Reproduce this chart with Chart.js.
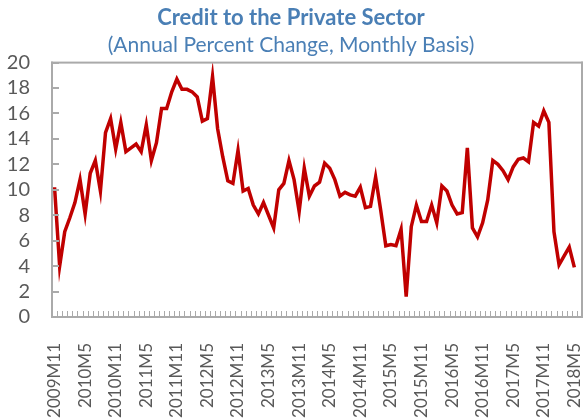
<!DOCTYPE html>
<html><head><meta charset="utf-8">
<script src="https://cdn.jsdelivr.net/npm/chart.js@4.4.0/dist/chart.umd.min.js"></script>
<style>html,body{margin:0;padding:0;background:#fff}#wrap{width:586px;height:419px}</style>
</head><body><div id="wrap"><canvas id="c" width="586" height="419"></canvas></div>
<script>
// Category range: 2009M11 .. 2018M5 (plus one empty trailing month on the axis)
const startYear = 2009, startMonth = 11, monthCount = 104;
const categories = [];
for (let i = 0; i < monthCount; i++) {
  const m = startMonth - 1 + i;
  categories.push((startYear + Math.floor(m / 12)) + 'M' + (m % 12 + 1));
}
// Annual percent change, monthly
const creditGrowth = [
  10.2, 4.0, 6.7, 7.8, 9.0, 10.8, 8.1, 11.3, 12.3, 9.9,
  14.5, 15.6, 13.2, 15.3, 13.0, 13.3, 13.6, 13.0, 15.1, 12.3,
  13.7, 16.4, 16.4, 17.7, 18.7, 17.9, 17.9, 17.7, 17.3, 15.4,
  15.6, 18.9, 14.8, 12.6, 10.7, 10.5, 13.1, 9.9, 10.1, 8.8,
  8.1, 9.0, 8.0, 7.0, 10.0, 10.5, 12.3, 10.8, 8.3, 11.7,
  9.5, 10.3, 10.6, 12.1, 11.7, 10.8, 9.5, 9.8, 9.6, 9.5,
  10.2, 8.6, 8.7, 11.0, 8.4, 5.6, 5.7, 5.6, 6.9, 1.6,
  7.1, 8.8, 7.5, 7.5, 8.8, 7.4, 10.3, 9.9, 8.8, 8.1,
  8.2, 13.3, 7.0, 6.3, 7.4, 9.2, 12.3, 12.0, 11.5, 10.8,
  11.8, 12.4, 12.5, 12.2, 15.3, 15.0, 16.2, 15.3, 6.7, 4.1,
  4.8, 5.5, 3.9
];
const yTicks = [0, 2, 4, 6, 8, 10, 12, 14, 16, 18, 20];
const labelEvery = 6;

// Plot frame and inward tick marks, positioned from the chart's own scales
const framePlugin = {
  id: 'plotFrameTicks',
  afterDraw(chart) {
    const c = chart.ctx;
    const ca = chart.chartArea;
    const xs = chart.scales.x, ys = chart.scales.y;
    c.save();
    c.fillStyle = 'rgb(170,170,170)';
    const w = ca.right - ca.left, h = ca.bottom - ca.top;
    c.fillRect(ca.left - 1, ca.top - 1, w + 2, 2);
    c.fillRect(ca.left - 1, ca.bottom - 1, w + 2, 2);
    c.fillRect(ca.left - 1, ca.top - 1, 2, h + 2);
    c.fillRect(ca.right - 1, ca.top - 1, 2, h + 2);
    for (let k = 0; k < yTicks.length; k++) {
      const py = Math.round(ys.getPixelForValue(yTicks[k]));
      c.fillRect(ca.left, py - 1, 7, 2);
    }
    const step = xs.getPixelForValue(1) - xs.getPixelForValue(0);
    for (let i = 0; i <= categories.length; i++) {
      const px = Math.round(xs.getPixelForValue(i) - step / 2);
      c.fillRect(px, ca.bottom - 6, 1, 6);
    }
    c.restore();
  }
};

new Chart(document.getElementById('c'), {
  type: 'line',
  data: {
    labels: categories,
    datasets: [{
      data: creditGrowth,
      borderColor: '#c00000',
      borderWidth: 3.5,
      pointRadius: 0,
      tension: 0,
      fill: false
    }]
  },
  options: {
    responsive: false,
    animation: false,
    devicePixelRatio: 1,
    layout: {padding: {left: 0, right: 4, top: 0, bottom: 0}},
    plugins: {
      legend: {display: false},
      tooltip: {enabled: false},
      title: {
        display: true,
        text: 'Credit to the Private Sector',
        color: '#4a7fb5',
        font: {family: 'Lato, "Open Sans", sans-serif', size: 22, weight: 'bold'},
        padding: {top: 5, bottom: 0}
      },
      subtitle: {
        display: true,
        text: '(Annual Percent Change, Monthly Basis)',
        color: '#4a7fb5',
        font: {family: 'Lato, "Open Sans", sans-serif', size: 21},
        padding: {top: 1, bottom: 5}
      }
    },
    scales: {
      x: {
        type: 'category',
        offset: true,
        grid: {display: false},
        border: {display: false},
        ticks: {
          autoSkip: false,
          maxRotation: 90,
          minRotation: 90,
          padding: 18,
          color: '#595959',
          font: {family: 'Lato, "Open Sans", sans-serif', size: 17},
          callback: function(v, i) { return (i % labelEvery === 0 && i < creditGrowth.length) ? categories[i] : ''; }
        },
        afterFit(scale) { scale.height = 102; scale.paddingLeft = 0; scale.paddingRight = 0; }
      },
      y: {
        min: 0, max: 20,
        grid: {display: false},
        border: {display: false},
        afterBuildTicks(scale) { scale.ticks = yTicks.map(v => ({value: v})); },
        ticks: {
          autoSkip: false,
          padding: 14,
          color: '#595959',
          font: {family: 'Lato, "Open Sans", sans-serif', size: 20}
        },
        afterFit(scale) { scale.width = 52; scale.paddingTop = 0; scale.paddingBottom = 0; }
      }
    }
  },
  plugins: [framePlugin]
});
</script></body></html>
